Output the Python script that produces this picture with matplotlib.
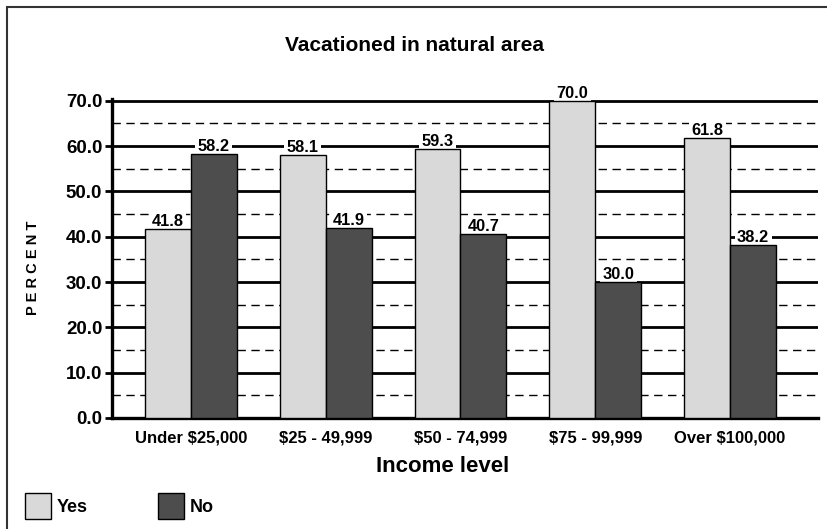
import numpy as np
import matplotlib.pyplot as plt
from matplotlib.patches import Rectangle

plt.rcParams['font.family'] = ['Liberation Sans', 'DejaVu Sans']
plt.rcParams['font.weight'] = 'bold'

categories = ['Under $25,000', '$25 - 49,999', '$50 - 74,999', '$75 - 99,999', 'Over $100,000']
yes_vals = [41.8, 58.1, 59.3, 70.0, 61.8]
no_vals = [58.2, 41.9, 40.7, 30.0, 38.2]
yticks = [0, 10, 20, 30, 40, 50, 60, 70]
series_names = ['Yes', 'No']

YES_COLOR = '#d9d9d9'
NO_COLOR = '#4d4d4d'

fig = plt.figure(figsize=(8.28, 5.29), dpi=100)
ax = fig.add_axes([112 / 828, 111 / 529, 706 / 828, 319 / 529])

x = np.arange(len(categories))
w = 0.34

b1 = ax.bar(x - w / 2, yes_vals, w, color=YES_COLOR, edgecolor='black', linewidth=1.0, zorder=3)
b2 = ax.bar(x + w / 2, no_vals, w, color=NO_COLOR, edgecolor='black', linewidth=1.0, zorder=3)

# value labels: white box sits above the grid but below the bars,
# so it breaks the grid lines without hiding the bar tops
for bars, vals in ((b1, yes_vals), (b2, no_vals)):
    for rect, v in zip(bars, vals):
        ax.annotate(f'{v:.1f}', (rect.get_x() + rect.get_width() / 2, v),
                    xytext=(0, 2.2), textcoords='offset points',
                    ha='center', va='baseline', fontsize=11.8, fontweight='bold',
                    bbox=dict(boxstyle='square,pad=0.15', fc='white', ec='none'),
                    zorder=2)

ax.set_xlim(-0.585, 4.652)
ax.set_ylim(0, 70.4)
ax.set_yticks(yticks)
ax.set_yticklabels([f'{t:.1f}' for t in yticks], fontsize=13.5, fontweight='bold')
ax.set_yticks(np.arange(5, 70, 10), minor=True)
ax.tick_params(axis='y', which='major', length=5, width=2, pad=2)
ax.tick_params(axis='y', which='minor', length=0)
ax.set_xticks(x)
ax.set_xticklabels(categories, fontsize=12, fontweight='bold')
ax.tick_params(axis='x', length=0, pad=9)

ax.grid(axis='y', which='major', color='black', linewidth=2.0, zorder=1)
ax.grid(axis='y', which='minor', color='black', linewidth=1.0, linestyle=(0, (6, 4)), zorder=1)
ax.set_axisbelow(True)

for s in ('top', 'right'):
    ax.spines[s].set_visible(False)
ax.spines['left'].set_linewidth(2.4)
ax.spines['bottom'].set_linewidth(2.4)

fig.text(415 / 828, 1 - 46 / 529, 'Vacationed in natural area', ha='center', va='center',
         fontsize=15, fontweight='bold')
fig.text(443 / 828, 1 - 467 / 529, 'Income level', ha='center', va='center',
         fontsize=16, fontweight='bold')
fig.text(33 / 828, 1 - 268 / 529, 'P E R C E N T', ha='center', va='center', rotation=90,
         fontsize=10.5, fontweight='bold')

# legend drawn by hand: square swatch + label
for i, (name, col) in enumerate(zip(series_names, [YES_COLOR, NO_COLOR])):
    x0 = 25 + i * 133
    fig.add_artist(Rectangle((x0 / 828, 1 - 519 / 529), 26 / 828, 26 / 529,
                             transform=fig.transFigure, facecolor=col, edgecolor='black',
                             linewidth=1.0))
    fig.text((x0 + 32) / 828, 1 - 507 / 529, name, ha='left', va='center',
             fontsize=13, fontweight='bold')

# outer frame of the figure
fig.add_artist(Rectangle((7 / 828, -0.1), 1.2, 1.1 - 7 / 529, transform=fig.transFigure,
                         fill=False, edgecolor='#333333', linewidth=1.5))

fig.savefig('out.png', dpi=100)
